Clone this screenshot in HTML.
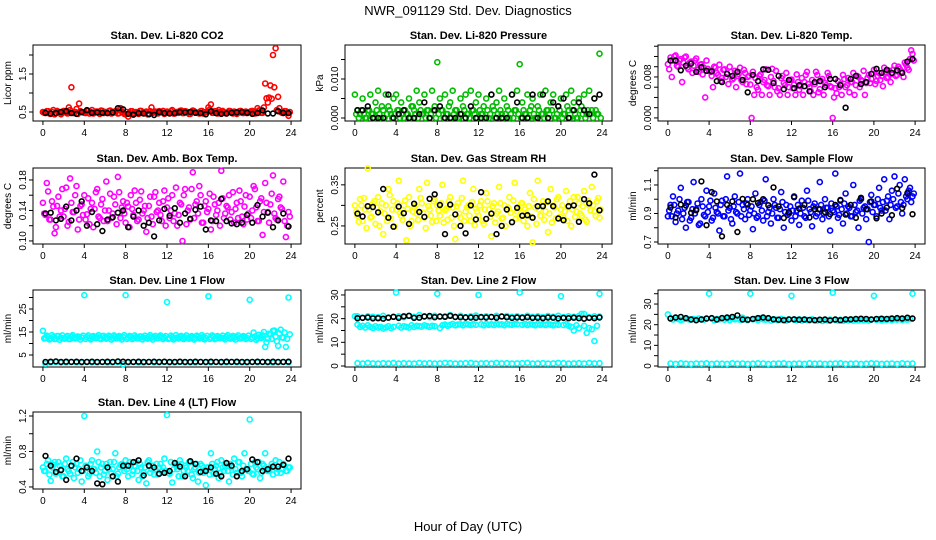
<!DOCTYPE html>
<html><head><meta charset="utf-8"><style>
html,body{margin:0;padding:0;background:#fff;}
svg{display:block;font-family:"Liberation Sans",Arial,sans-serif;}
</style></head><body>
<svg id="chart" width="936" height="540" viewBox="0 0 936 540">
<text x="468" y="15" text-anchor="middle" font-size="13">NWR_091129  Std. Dev. Diagnostics</text>
<text x="468" y="531" text-anchor="middle" font-size="13">Hour of Day (UTC)</text>
</svg>
<script>
// ---- data ----
const xTicks=[0,4,8,12,16,20,24];
const co2A=[0.50,0.47,0.52,0.45,0.55,0.48,0.50,0.44,0.53,0.49,0.62,1.15,0.47,0.58,0.72,0.50,0.48,0.52,0.46,0.55,0.49,0.51,0.45,0.53,0.50,0.47,0.54,0.48,0.52,0.46,0.60,0.49,0.44,0.38,0.52,0.47,0.50,0.45,0.53,0.48,0.51,0.46,0.62,0.50,0.47,0.52,0.49,0.45,0.51,0.48,0.55,0.46,0.50,0.53,0.47,0.52,0.49,0.45,0.54,0.50,0.48,0.52,0.46,0.50,0.62,0.70,0.48,0.52,0.55,0.47,0.50,0.46,0.53,0.49,0.51,0.45,0.52,0.48,0.50,0.47,0.50,0.53,0.46,0.60,0.55,0.48,1.25,0.75,1.20,2.00,2.18,0.90,0.50,0.47,0.52,0.40];
const co2B=[0.48,0.52,0.46,0.50,0.44,0.53,0.49,0.47,0.51,0.46,0.55,0.48,0.50,0.45,0.52,0.49,0.47,0.53,0.50,0.46,0.51,0.48,0.54,0.47,0.50,0.52,0.46,0.49,0.53,0.47,0.51,0.45,0.50,0.48,0.52,0.46,0.49,0.53,0.47,0.50,0.44,0.52,0.48,0.51,0.46,0.50,0.53,0.47,0.49,0.52,0.46,0.50,0.48,0.54,0.47,0.51,0.45,0.50,0.52,0.48,0.46,0.53,0.49,0.51,0.56,0.48,0.52,0.46,0.50,0.53,0.47,0.49,0.52,0.46,0.50,0.48,0.53,0.47,0.51,0.49,0.52,0.46,0.50,0.54,0.48,0.62,0.86,0.88,0.85,1.15,0.55,0.60,0.48,0.52,0.47,0.50];
const co2K=[0.48,0.46,0.47,0.50,0.52,0.47,0.45,0.50,0.55,0.48,0.49,0.48,0.47,0.49,0.60,0.57,0.45,0.43,0.47,0.46,0.44,0.42,0.50,0.47,0.46,0.47,0.50,0.49,0.50,0.48,0.47,0.44,0.52,0.47,0.45,0.46,0.48,0.49,0.50,0.48,0.45,0.47,0.54,0.46,0.46,0.52,0.48,0.47];
const prA=[0.006,0.002,0.001,0.005,0,0.002,0.006,0.001,0.004,0.007,0,0.002,0.006,0.003,0.001,0.005,0.006,0.002,0.004,0,0.001,0.005,0.003,0.002,0.007,0.004,0.001,0.006,0.002,0,0.007,0.003,0.0143,0.005,0.002,0.006,0.001,0.004,0.007,0.002,0,0.005,0.003,0.006,0.001,0.007,0.002,0.004,0.006,0.001,0.003,0.005,0,0.006,0.002,0.004,0.007,0.001,0.005,0.003,0,0.006,0.002,0.007,0.0138,0.004,0.001,0.006,0.002,0.005,0,0.003,0.006,0.001,0.007,0.002,0.004,0.006,0,0.003,0.005,0.001,0.006,0.002,0.007,0.004,0,0.005,0.003,0.006,0.001,0.007,0.002,0.005,0.001,0.0165];
const prB=[0.001,0,0.002,0.001,0,0.002,0.001,0,0.002,0.001,0.003,0,0.001,0.002,0,0.001,0.002,0,0.001,0.002,0.001,0,0.003,0.001,0,0.002,0.001,0,0.002,0.001,0.002,0,0.001,0.002,0,0.001,0.003,0,0.001,0.002,0,0.001,0.002,0.001,0,0.002,0.001,0,0.002,0.001,0,0.002,0.001,0.003,0,0.001,0.002,0,0.001,0.002,0.001,0,0.002,0.001,0,0.002,0.001,0,0.003,0.001,0,0.002,0.001,0,0.002,0.001,0.002,0,0.001,0.002,0,0.001,0.003,0,0.002,0.001,0,0.002,0.001,0,0.002,0.001,0,0.002,0.001,0];
const prK=[0.002,0.002,0.003,0,0,0,0.006,0,0.001,0.002,0,0,0.001,0.004,0,0.002,0.003,0,0,0,0.001,0,0.003,0,0,0,0.006,0,0,0,0.006,0.004,0,0,0.006,0,0.006,0,0.004,0.003,0.005,0,0.002,0.004,0.002,0.001,0.005,0.006];
const tpA=[0.0105,0.0118,0.0112,0.0122,0.0100,0.0115,0.0108,0.0120,0.0095,0.0110,0.0102,0.0116,0.0090,0.0105,0.0098,0.0112,0.0092,0.0082,0.0100,0.0088,0.0104,0.0078,0.0095,0.0086,0.0100,0.0075,0.0092,0.0082,0.0098,0.0070,0.0088,0.0080,0.0065,0.0090,0.0078,0.0055,0.0085,0.0070,0.0095,0.0062,0.0080,0.0072,0.0092,0.0058,0.0078,0.0068,0.0088,0.0060,0.0075,0.0065,0.0085,0.0055,0.0078,0.0070,0.0090,0.0060,0.0074,0.0066,0.0084,0.0056,0.0076,0.0068,0.0088,0.0062,0.0000,0.0058,0.0072,0.0066,0.0084,0.0060,0.0078,0.0070,0.0088,0.0064,0.0080,0.0074,0.0092,0.0068,0.0084,0.0076,0.0094,0.0072,0.0088,0.0082,0.0098,0.0078,0.0092,0.0086,0.0102,0.0084,0.0096,0.0090,0.0108,0.0098,0.0115,0.0125];
const tpB=[0.0095,0.0080,0.0120,0.0102,0.0112,0.0070,0.0118,0.0098,0.0108,0.0088,0.0112,0.0094,0.0104,0.0085,0.0040,0.0096,0.0090,0.0060,0.0098,0.0084,0.0072,0.0094,0.0080,0.0066,0.0090,0.0078,0.0060,0.0086,0.0074,0.0094,0.0066,0.0082,0.0000,0.0045,0.0060,0.0082,0.0045,0.0074,0.0064,0.0045,0.0096,0.0060,0.0052,0.0045,0.0082,0.0064,0.0045,0.0074,0.0058,0.0045,0.0070,0.0062,0.0045,0.0084,0.0066,0.0052,0.0045,0.0090,0.0050,0.0072,0.0045,0.0064,0.0082,0.0060,0.0040,0.0048,0.0060,0.0045,0.0076,0.0064,0.0050,0.0070,0.0045,0.0082,0.0060,0.0072,0.0045,0.0078,0.0068,0.0086,0.0066,0.0082,0.0074,0.0062,0.0090,0.0080,0.0070,0.0094,0.0082,0.0100,0.0090,0.0080,0.0104,0.0094,0.0132,0.0112];
const tpK=[0.0112,0.0112,0.0093,0.0102,0.0106,0.0090,0.0099,0.0092,0.0091,0.0072,0.0070,0.0086,0.0082,0.0090,0.0074,0.0050,0.0084,0.0072,0.0095,0.0094,0.0068,0.0082,0.0056,0.0074,0.0058,0.0064,0.0062,0.0052,0.0070,0.0072,0.0060,0.0076,0.0076,0.0064,0.0020,0.0076,0.0082,0.0066,0.0070,0.0086,0.0096,0.0088,0.0094,0.0088,0.0093,0.0088,0.0110,0.0115];
const abA=[0.150,0.134,0.165,0.128,0.145,0.118,0.158,0.140,0.132,0.170,0.125,0.150,0.138,0.172,0.128,0.148,0.160,0.135,0.122,0.150,0.142,0.168,0.130,0.155,0.140,0.126,0.162,0.136,0.148,0.184,0.130,0.152,0.124,0.145,0.160,0.134,0.150,0.128,0.165,0.140,0.112,0.146,0.132,0.158,0.138,0.150,0.126,0.166,0.144,0.130,0.160,0.136,0.120,0.150,0.100,0.168,0.140,0.128,0.190,0.148,0.136,0.160,0.124,0.152,0.142,0.115,0.158,0.134,0.150,0.192,0.130,0.146,0.160,0.138,0.124,0.150,0.166,0.132,0.145,0.128,0.158,0.140,0.168,0.126,0.152,0.108,0.176,0.138,0.148,0.186,0.130,0.155,0.144,0.178,0.105,0.138];
const abB=[0.136,0.176,0.128,0.152,0.110,0.146,0.132,0.168,0.142,0.120,0.182,0.138,0.160,0.115,0.146,0.134,0.128,0.156,0.142,0.118,0.164,0.132,0.148,0.126,0.178,0.140,0.130,0.158,0.122,0.164,0.144,0.136,0.150,0.118,0.142,0.166,0.126,0.154,0.136,0.146,0.130,0.158,0.122,0.164,0.140,0.134,0.152,0.120,0.156,0.140,0.126,0.170,0.134,0.148,0.160,0.122,0.144,0.168,0.130,0.152,0.172,0.124,0.146,0.138,0.162,0.126,0.148,0.140,0.120,0.156,0.136,0.144,0.128,0.164,0.142,0.130,0.152,0.122,0.160,0.136,0.130,0.172,0.144,0.126,0.156,0.138,0.150,0.124,0.162,0.136,0.128,0.158,0.142,0.126,0.120,0.132];
const abK=[0.136,0.137,0.127,0.129,0.145,0.127,0.140,0.152,0.120,0.138,0.122,0.113,0.128,0.131,0.137,0.140,0.118,0.132,0.140,0.120,0.124,0.106,0.127,0.142,0.133,0.143,0.124,0.136,0.129,0.141,0.145,0.115,0.127,0.126,0.155,0.126,0.123,0.122,0.124,0.134,0.124,0.147,0.132,0.137,0.118,0.127,0.136,0.119];
const rhA=[0.300,0.275,0.315,0.262,0.290,0.390,0.270,0.305,0.255,0.320,0.285,0.230,0.300,0.340,0.268,0.310,0.290,0.360,0.275,0.300,0.215,0.320,0.262,0.295,0.280,0.340,0.305,0.270,0.355,0.290,0.260,0.315,0.300,0.275,0.350,0.288,0.265,0.320,0.295,0.218,0.305,0.270,0.360,0.285,0.300,0.262,0.340,0.292,0.275,0.310,0.255,0.330,0.290,0.225,0.305,0.280,0.345,0.268,0.300,0.290,0.320,0.260,0.355,0.285,0.270,0.305,0.290,0.250,0.330,0.210,0.295,0.360,0.275,0.310,0.285,0.235,0.340,0.300,0.268,0.320,0.290,0.270,0.335,0.295,0.250,0.320,0.285,0.305,0.275,0.335,0.260,0.300,0.345,0.285,0.310,0.270];
const rhB=[0.285,0.260,0.300,0.318,0.245,0.290,0.272,0.310,0.295,0.250,0.305,0.280,0.262,0.325,0.290,0.248,0.305,0.282,0.265,0.312,0.292,0.250,0.285,0.300,0.265,0.318,0.282,0.245,0.298,0.275,0.310,0.262,0.288,0.305,0.258,0.292,0.310,0.270,0.250,0.298,0.280,0.318,0.262,0.295,0.275,0.308,0.252,0.285,0.300,0.262,0.290,0.310,0.272,0.298,0.258,0.285,0.305,0.270,0.250,0.295,0.282,0.312,0.268,0.290,0.305,0.262,0.282,0.298,0.272,0.315,0.255,0.290,0.300,0.265,0.308,0.280,0.258,0.295,0.315,0.272,0.300,0.285,0.262,0.310,0.290,0.272,0.320,0.280,0.298,0.265,0.312,0.288,0.300,0.275,0.318,0.290];
const rhK=[0.280,0.273,0.298,0.296,0.283,0.340,0.270,0.248,0.297,0.281,0.255,0.304,0.284,0.272,0.316,0.327,0.301,0.230,0.302,0.278,0.250,0.232,0.300,0.266,0.332,0.267,0.280,0.230,0.250,0.290,0.259,0.294,0.275,0.276,0.270,0.298,0.298,0.310,0.298,0.268,0.264,0.298,0.300,0.260,0.315,0.305,0.375,0.288];
const sfA=[0.880,0.960,1.020,0.840,0.920,1.080,0.900,0.800,0.980,0.870,1.120,0.930,0.820,1.000,0.890,1.060,0.950,0.850,1.040,0.910,0.780,0.990,0.880,1.160,0.940,0.830,1.020,0.900,1.180,0.960,0.860,1.000,0.920,0.790,1.040,0.880,0.980,0.850,1.140,0.910,0.830,1.000,0.940,0.870,1.050,0.800,0.960,0.900,0.850,1.020,0.920,0.820,0.990,0.880,1.060,0.930,0.810,0.970,0.900,1.120,0.860,1.000,0.940,0.780,0.920,1.180,0.870,0.990,0.830,1.040,0.950,0.880,1.100,0.910,0.800,1.000,0.940,0.860,0.700,1.030,0.960,0.880,1.080,0.920,1.140,0.990,0.860,1.060,1.160,0.950,1.100,0.900,1.140,1.000,1.080,1.020];
const sfB=[0.920,0.880,0.960,0.900,1.000,0.860,0.940,0.980,0.850,0.930,0.900,0.970,0.830,0.950,0.880,0.910,0.990,0.870,0.940,0.900,0.960,0.880,1.000,0.920,0.860,0.950,0.910,0.980,0.880,0.930,0.970,0.890,0.950,0.900,0.870,0.960,0.920,0.990,0.880,0.940,0.900,0.960,0.870,0.930,0.980,0.910,0.890,0.950,0.920,0.880,0.960,0.900,0.940,0.870,0.990,0.910,0.950,0.880,0.930,0.960,0.900,0.940,0.880,0.970,0.910,0.950,0.890,0.930,0.970,0.900,0.940,0.880,0.960,0.920,0.990,0.900,0.950,0.930,0.980,0.910,0.960,1.000,0.940,0.980,0.920,1.020,0.960,1.000,0.940,1.040,0.980,0.960,1.020,1.060,0.980,1.040];
const sfK=[0.942,0.872,0.962,0.956,0.905,0.923,1.125,0.818,1.050,0.985,0.740,0.960,0.985,0.770,1.002,0.962,1.000,0.974,1.000,0.958,1.083,0.950,0.868,0.910,1.014,0.934,0.960,0.872,0.930,0.930,0.910,0.896,0.960,0.995,0.892,0.960,0.870,1.010,0.930,0.985,0.866,0.900,0.942,0.888,1.074,0.938,1.042,0.895];
const l1A=[15.5,12.5,13,12.2,12.8,12,13.2,12.5,12.2,12.8,12,13,12.5,12.3,12.8,12.6,31,12.8,12.4,13,12.5,12.8,12.2,13.2,12.6,12.4,12.9,12.3,13,12.6,12.5,12.8,31,12.6,13,12.4,12.8,12.2,13,12.6,12.4,12.9,12.5,12.7,12.3,13,12.6,12.5,28,12.4,12.8,12.2,12.6,12.9,12.3,12.7,12.4,12.8,12.5,12.2,12.9,12.6,12.8,12.4,30.5,12.6,13,12.2,12.8,12.5,12.3,12.9,12.4,12.7,12.5,12.8,12.2,12.6,12.9,12.4,29,12.6,13,12.2,12.8,13.5,8.5,12,14,15.5,13,9,16,12.5,8.5,30];
const l1B=[12.2,13.4,11.8,13.6,12,13.2,11.6,13.5,12.1,13.3,11.9,13.6,12.2,13.1,11.7,13.4,12,13.5,11.8,13.2,12.3,13.6,11.9,13.3,12.1,13.4,11.7,13.5,12.2,13.2,11.8,13.6,12,13.3,11.9,13.5,12.2,13.1,11.8,13.4,12.1,13.6,11.7,13.3,12.3,13.5,11.9,13.2,12,13.4,11.8,13.6,12.2,13.3,11.9,13.5,12.1,13.2,11.7,13.4,12.2,13.6,11.8,13.3,12,13.5,11.9,13.2,12.3,13.4,11.8,13.6,12.1,13.3,11.7,13.5,12.2,13.2,11.9,13.4,12,14.8,11.6,13.8,12.4,15,10.5,14.2,12,15.6,11,14.4,12.6,14.8,12,14];
const l1L=[1.2,1.8,1.9,1.7,1.8,1.9,1.8,1.7,1.9,1.8,1.8,1.9,1.7,1.8,1.9,1.0,1.8,1.9,1.8,1.7,1.9,1.8,1.8,1.9,1.7,1.8,1.9,1.8,1.8,1.7,1.9,1.8,1.8,1.9,1.7,1.8,1.9,1.8,1.8,1.7,1.9,1.8,1.9,1.8,1.7,1.8,1.9,1.8];
const l1K=[2.0,2.1,2.2,2.0,2.1,2.0,2.1,2.0,2.0,2.1,2.0,2.0,2.1,2.0,2.2,2.1,2.0,2.0,2.1,2.0,2.0,2.1,2.0,2.1,2.0,2.0,2.1,2.0,2.0,2.1,2.0,2.0,2.1,2.0,2.0,2.1,2.0,2.1,2.0,2.0,2.0,2.1,2.0,2.0,2.1,2.0,2.0,2.1];
const l2A=[21,17.5,16.5,17,16.2,17.2,16.5,16,16.8,16.2,16.5,15.8,16.2,16.8,16,16.5,31,17,16.2,16.8,16.5,16.2,17.2,16.5,17,16.8,16.6,17.2,16.9,16.5,17,16.8,30.5,16,17.2,17.5,17,17.4,17.8,17.2,17.5,17.6,17.2,17.8,17.5,17.3,17.7,17.4,30,17.6,17.2,17.8,17.4,17.6,17.3,17.8,17.5,17.6,17.2,17.8,17.5,17.4,17.7,17.6,31,17.4,17.8,17.3,17.6,17.5,17.2,17.8,17.4,17.6,17.3,17.7,17.5,17.2,17.6,17.4,29.5,17.3,17.6,17,16.5,15,17.2,16,22,17,14,16,15.5,10.5,17,30.5];
const l2U=[21,20.5,21,20.8,20.6,21.2,20.5,20.8,21,20.6,21.2,20.8,21.5,21,20.6,21.2,20.8,21,21.5,20.8,21.2,20.6,21,21.3,20.8,21,20.7,21.2,20.9,21.1,20.8,21,20.6,21.2,20.8,21,20.7,21.1,20.8,21.2,20.6,21,20.8,21.1,22,20.6,21,20.9];
const l2L=[1.2,1.0,1.3,1.1,1.0,1.2,1.1,1.3,1.0,1.2,1.1,1.0,1.3,1.1,1.2,1.0,1.1,1.3,1.2,1.0,1.1,1.2,1.3,1.0,1.1,1.2,1.0,1.3,1.1,1.2,1.0,1.1,1.2,1.3,1.0,1.1,1.2,1.0,1.1,1.3,1.2,1.0,1.1,1.2,1.0,1.3,1.1,1.2];
const l2K=[20.2,20.3,20.5,20.1,20.2,20,20.4,20.8,20.3,21,21.2,20.3,20.4,20.9,21.1,20.6,20.9,20.8,21.2,20.7,20.6,20.5,20.5,20.4,20.6,20.5,20.7,20.4,20.9,20.6,20.3,20.5,20.4,20.6,20.3,20.4,20.2,20.5,20.4,20.1,20.3,20.2,20.4,20.2,20,20.3,20.2,20.5];
const l3A=[25,23,22.5,23.2,22.8,22.2,22.6,23,22.6,22.5,22.8,22.2,23,22.6,22.4,22.9,35,23,22.2,22.8,22.6,23.2,22.4,22.8,22.2,23,22.6,22.8,22.4,23.4,22.6,22.2,35,22.6,22.8,22.2,23.2,22.6,22.4,22.8,22,22.6,22.4,22.2,22.8,22.4,22,22.6,34,22.4,22.2,22.6,22,22.5,22.3,22.1,22.6,22.2,22,22.4,21.8,22.3,22.1,22.5,35.5,22.2,22,22.4,21.9,22.3,22.1,22.5,22,22.3,22.1,22.6,22.2,22.4,22,22.5,34,22.3,22.6,22.1,22.5,22.3,22.8,22.2,22.6,22.4,22.7,22.3,22.6,22.4,22.8,35];
const l3L=[1.2,1.0,1.3,1.1,1.0,1.2,1.1,1.3,1.0,1.2,1.1,1.0,1.3,1.1,1.2,1.0,1.1,1.3,1.2,1.0,1.1,1.2,1.3,1.0,1.1,1.2,1.0,1.3,1.1,1.2,1.0,1.1,1.2,1.3,1.0,1.1,1.2,1.0,1.1,1.3,1.2,1.0,1.1,1.2,1.0,1.3,1.1,1.2];
const l3K=[23,23.5,23.8,23.2,22.5,22.2,22.5,23,23.2,22.5,23.2,23.5,23.8,24.5,22.5,22.4,22.8,23.2,23.5,23.2,22.6,22.4,22.2,22.5,22.6,22.4,22.5,22.3,22.2,22.4,22.5,22.1,22.5,22.2,22.6,22.6,22.8,22.9,22.8,22.5,22.8,22.9,22.8,23,23.2,23,23.4,23];
const l4A=[0.62,0.58,0.70,0.47,0.65,0.55,0.68,0.60,0.52,0.72,0.58,0.64,0.50,0.66,0.60,0.46,1.20,0.63,0.55,0.70,0.60,0.80,0.52,0.66,0.58,0.48,0.68,0.60,0.78,0.55,0.65,0.62,0.70,0.52,0.64,0.58,0.68,0.48,0.62,0.56,0.44,0.70,0.60,0.54,0.66,0.62,0.58,0.72,1.21,0.55,0.45,0.66,0.60,0.70,0.52,0.64,0.58,0.68,0.50,0.62,0.46,0.66,0.56,0.42,0.62,0.78,0.55,0.64,0.50,0.70,0.58,0.66,0.46,0.62,0.72,0.56,0.68,0.52,0.78,0.60,1.16,0.55,0.68,0.60,0.50,0.66,0.78,0.58,0.62,0.54,0.70,0.60,0.56,0.66,0.58,0.62];
const l4B=[0.58,0.66,0.54,0.62,0.68,0.56,0.64,0.52,0.66,0.60,0.55,0.68,0.62,0.56,0.70,0.58,0.64,0.52,0.66,0.60,0.56,0.68,0.62,0.54,0.66,0.60,0.56,0.68,0.52,0.62,0.66,0.58,0.60,0.68,0.54,0.64,0.58,0.66,0.52,0.62,0.68,0.56,0.64,0.60,0.54,0.66,0.62,0.58,0.56,0.68,0.60,0.64,0.52,0.66,0.58,0.62,0.68,0.54,0.60,0.66,0.56,0.64,0.58,0.62,0.54,0.66,0.60,0.68,0.56,0.62,0.64,0.58,0.66,0.54,0.60,0.68,0.56,0.64,0.60,0.58,0.66,0.54,0.62,0.68,0.56,0.64,0.60,0.58,0.66,0.62,0.56,0.68,0.60,0.64,0.58,0.62];
const l4K=[0.75,0.64,0.57,0.59,0.48,0.64,0.72,0.58,0.62,0.58,0.44,0.43,0.62,0.52,0.46,0.64,0.64,0.68,0.70,0.53,0.64,0.62,0.55,0.56,0.58,0.67,0.63,0.52,0.69,0.66,0.57,0.58,0.62,0.55,0.52,0.67,0.64,0.52,0.58,0.60,0.71,0.68,0.58,0.60,0.63,0.63,0.65,0.72];

const svgNS="http://www.w3.org/2000/svg";
const svg=document.getElementById('chart');
function mk(tag,attrs,parent){const e=document.createElementNS(svgNS,tag);for(const k in attrs)e.setAttribute(k,attrs[k]);(parent||svg).appendChild(e);return e;}

const cols=[[33,301],[345,612],[658,925]];
const rows=[[45,121],[168,244],[290,367],[412,489]];

const panels=[
 {key:'co2',title:'Stan. Dev. Li-820 CO2',yl:'Licor ppm',c:0,r:0,ymin:0.263,ymax:2.263,ticks:[0.5,1,1.5,2],labels:{'0.5':'0.5','1.5':'1.5'},col:'#ff0000',series:[[co2A,0],[co2B,1]],black:co2K},
 {key:'pressure',title:'Stan. Dev. Li-820 Pressure',yl:'kPa',c:1,r:0,ymin:-0.00077,ymax:0.01872,ticks:[0,0.005,0.010,0.015],labels:{'0':'0.000','0.01':'0.010'},col:'#00bb00',series:[[prA,0],[prB,1]],black:prK},
 {key:'temp',title:'Stan. Dev. Li-820 Temp.',yl:'degrees C',c:2,r:0,ymin:-0.0006,ymax:0.01424,ticks:[0,0.002,0.004,0.006,0.008,0.010,0.012,0.014],labels:{'0':'0.000','0.008':'0.008'},col:'#ff00ff',series:[[tpA,0],[tpB,1]],black:tpK},
 {key:'amb-box',title:'Stan. Dev. Amb. Box Temp.',yl:'degrees C',c:0,r:1,ymin:0.096,ymax:0.1957,ticks:[0.10,0.12,0.14,0.16,0.18],labels:{'0.1':'0.10','0.14':'0.14','0.18':'0.18'},col:'#ff00ff',series:[[abA,0],[abB,1]],black:abK},
 {key:'gas-rh',title:'Stan. Dev. Gas Stream RH',yl:'percent',c:1,r:1,ymin:0.206,ymax:0.391,ticks:[0.25,0.30,0.35],labels:{'0.25':'0.25','0.35':'0.35'},col:'#ffff00',series:[[rhA,0],[rhB,1]],black:rhK},
 {key:'sample-flow',title:'Stan. Dev. Sample Flow',yl:'ml/min',c:2,r:1,ymin:0.686,ymax:1.219,ticks:[0.7,0.8,0.9,1.0,1.1,1.2],labels:{'0.7':'0.7','0.9':'0.9','1.1':'1.1'},col:'#0000ff',series:[[sfA,0],[sfB,1]],black:sfK},
 {key:'line1',title:'Stan. Dev. Line 1 Flow',yl:'ml/min',c:0,r:2,ymin:-0.22,ymax:33.26,ticks:[5,10,15,20,25,30],labels:{'5':'5','15':'15','25':'25'},col:'#00ffff',series:[[l1B,1],[l1A,0],[l1L,2]],black:l1K},
 {key:'line2',title:'Stan. Dev. Line 2 Flow',yl:'ml/min',c:1,r:2,ymin:-0.42,ymax:32.1,ticks:[0,5,10,15,20,25,30],labels:{'0':'0','10':'10','20':'20','30':'30'},col:'#00ffff',series:[[l2A,0],[l2U,2],[l2L,2]],black:l2K},
 {key:'line3',title:'Stan. Dev. Line 3 Flow',yl:'ml/min',c:2,r:2,ymin:-0.48,ymax:36.8,ticks:[0,5,10,15,20,25,30,35],labels:{'0':'0','10':'10','20':'20','30':'30'},col:'#00ffff',series:[[l3A,0],[l3L,2]],black:l3K},
 {key:'line4',title:'Stan. Dev. Line 4 (LT) Flow',yl:'ml/min',c:0,r:3,ymin:0.377,ymax:1.245,ticks:[0.4,0.6,0.8,1.0,1.2],labels:{'0.4':'0.4','0.8':'0.8','1.2':'1.2'},col:'#00ffff',series:[[l4A,0],[l4B,1]],black:l4K}
];

panels.forEach(p=>{
  const [x0,x1]=cols[p.c],[y0,y1]=rows[p.r];
  const g=mk('g',{});
  
  
  const xs=h=>x0+(h+0.96)/25.92*(x1-x0);
  const ys=v=>y1-(v-p.ymin)/(p.ymax-p.ymin)*(y1-y0);
  const t=mk('text',{x:(x0+x1)/2,y:y0-6,'text-anchor':'middle','font-size':11,'font-weight':'bold'},g);
  t.textContent=p.title;
  
  
  const xa=mk('g',{stroke:'#000','stroke-width':1},g);
  
  
  mk('line',{x1:xs(xTicks[0]),x2:xs(xTicks[xTicks.length-1]),y1:y1,y2:y1},xa);
  xTicks.forEach(v=>{
    mk('line',{x1:xs(v),x2:xs(v),y1:y1,y2:y1+4},xa);
    const tl=mk('text',{x:xs(v),y:y1+15,'text-anchor':'middle','font-size':10,stroke:'none'},xa);
    tl.textContent=v;
    
    
  });
  const ya=mk('g',{stroke:'#000','stroke-width':1},g);
  
  
  mk('line',{x1:x0,x2:x0,y1:ys(p.ticks[0]),y2:ys(p.ticks[p.ticks.length-1])},ya);
  p.ticks.forEach(v=>{
    const yy=ys(v);
    mk('line',{x1:x0-4,x2:x0,y1:yy,y2:yy},ya);
    const lab=p.labels[String(+v.toFixed(6))];
    if(lab){
      const tl=mk('text',{x:x0-7,y:yy,'text-anchor':'middle','font-size':10,stroke:'none',transform:`rotate(-90 ${x0-7} ${yy})`},ya);
      tl.textContent=lab;
      
      
    }
  });
  const yt=mk('text',{x:x0-22,y:(y0+y1)/2,'text-anchor':'middle','font-size':10,transform:`rotate(-90 ${x0-22} ${(y0+y1)/2})`},g);
  yt.textContent=p.yl;
  
  
  const bx=mk('rect',{x:x0,y:y0,width:x1-x0,height:y1-y0,fill:'none',stroke:'#000','stroke-width':1},g);
  
  
  p.series.forEach(([arr,kind])=>{
    const sg=mk('g',{fill:'none',stroke:p.col,'stroke-width':1.6},g);
    
    
    arr.forEach((v,i)=>{
      const h=kind===2?(i*0.5+0.25)*(arr.length===48?1:0.5):(i*0.25+(kind===1?0.125:0));
      const c=mk('circle',{cx:xs(h).toFixed(1),cy:ys(v).toFixed(1),r:2.5},sg);
      
      
    });
  });
  const kg=mk('g',{fill:'none',stroke:'#000','stroke-width':1.6},g);
  
  
  p.black.forEach((v,i)=>{
    const c=mk('circle',{cx:xs(i*0.5+0.25).toFixed(1),cy:ys(v).toFixed(1),r:2.4},kg);
    
    
  });
});
</script>
</body></html>
